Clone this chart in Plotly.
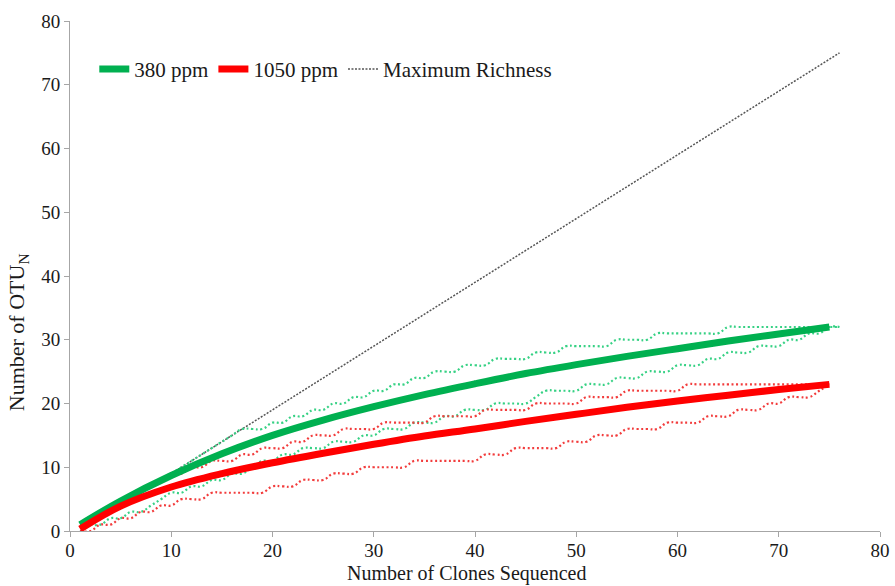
import plotly.graph_objects as go

# Mean rarefaction curves (number of clones sequenced vs. OTU count)
mean_x = [1, 5, 10, 15, 20, 25, 30, 35, 40, 45, 50, 55, 60, 65, 70, 75]
green_mean = [1.0, 4.7, 8.7, 12.1, 15.0, 17.4, 19.5, 21.4, 23.1, 24.7, 26.1, 27.4, 28.6, 29.8, 30.9, 32.0]
red_mean = [0.3, 3.9, 6.9, 9.0, 10.7, 12.2, 13.6, 14.9, 16.0, 17.2, 18.3, 19.4, 20.4, 21.3, 22.2, 23.0]

# 95% confidence bounds, one value per clone count
green_ci_x = list(range(2, 77))
green_upper = [1, 2, 3, 4, 5, 6, 7, 8, 9, 10, 11, 12, 13, 14, 15,
               16, 16, 16, 17, 17, 18, 18, 19, 19, 20, 20, 21, 21, 22, 22,
               23, 23, 24, 24, 25, 25, 25, 26, 26, 26, 27, 27, 27, 27,
               28, 28, 28, 29, 29, 29, 29, 29, 30, 30, 30, 30,
               31, 31, 31, 31, 31, 31, 31,
               32, 32, 32, 32, 32, 32, 32, 32, 32, 32, 32, 32]
green_lower = [1, 1, 2, 2, 3, 3, 4, 5, 6, 6, 7, 7, 8, 8, 9, 9, 10,
               11, 11, 12, 12, 13, 13, 13, 14, 14, 14, 15, 15, 16, 16, 16,
               17, 17, 17, 18, 18, 19, 19, 19, 20, 20, 20, 20, 21,
               22, 22, 22, 22, 23, 23, 23, 24, 24, 24, 25, 25, 25,
               26, 26, 26, 27, 27, 28, 28, 28, 29, 29, 29, 30, 30, 31, 31, 32, 32]

red_ci_x = list(range(1, 76))
red_upper = [1, 1, 2, 3, 4, 5, 6, 7, 8, 9, 9, 10, 10, 11, 11, 11, 12, 12,
             13, 13, 13, 14, 14, 15, 15, 15, 16, 16, 16, 16,
             17, 17, 17, 17, 17, 18, 18, 18, 18, 18, 19, 19, 19, 19, 19,
             20, 20, 20, 20, 20, 21, 21, 21, 21, 22, 22, 22, 22, 22, 22,
             23, 23, 23, 23, 23, 23, 23, 23, 23, 23, 23, 23, 23, 23, 23]
red_lower = [0, 0, 1, 1, 2, 2, 3, 3, 4, 4, 5, 5, 5, 6, 6, 6, 6, 6, 6,
             7, 7, 7, 8, 8, 8, 9, 9, 9, 10, 10, 10, 10, 10,
             11, 11, 11, 11, 11, 11, 11, 12, 12, 12, 13, 13, 13, 13, 13,
             14, 14, 14, 15, 15, 15, 16, 16, 16, 16, 17, 17, 17, 17,
             18, 18, 18, 19, 19, 19, 20, 20, 21, 21, 21, 22, 23]

# Maximum possible richness (every clone a new OTU)
max_x = [1, 76]
max_y = [0, 75]

GREEN = "#00b050"
RED = "#ff0000"
GREEN_CI = "#36d184"
RED_CI = "#f23c3c"
FONT = "Liberation Serif"
INK = "#1a1a1a"

fig = go.Figure()

fig.add_trace(go.Scatter(x=max_x, y=max_y, mode="lines", name="Maximum Richness",
                         line=dict(color="#555555", width=1.5, dash="2px,1.5px"),
                         legendrank=3))

for xs, ys, col in [(green_ci_x, green_upper, GREEN_CI), (green_ci_x, green_lower, GREEN_CI),
                    (red_ci_x, red_upper, RED_CI), (red_ci_x, red_lower, RED_CI)]:
    fig.add_trace(go.Scatter(x=xs, y=ys, mode="lines", showlegend=False, hoverinfo="skip",
                             line=dict(color=col, width=2.2, dash="2px,2.6px",
                                       shape="spline", smoothing=1.3)))

fig.add_trace(go.Scatter(x=mean_x, y=green_mean, mode="lines", name="380 ppm",
                         line=dict(color=GREEN, width=7, shape="spline"), legendrank=1))
fig.add_trace(go.Scatter(x=mean_x, y=red_mean, mode="lines", name="1050 ppm",
                         line=dict(color=RED, width=7, shape="spline"), legendrank=2))

axis_common = dict(
    range=[0, 80], dtick=10, showgrid=False, zeroline=False, automargin=False,
    showline=True, linecolor="#a6a6a6", linewidth=1,
    ticks="outside", ticklen=5, tickcolor="#a6a6a6",
    tickfont=dict(family=FONT, size=19, color=INK),
)

fig.update_layout(
    width=895, height=586,
    margin=dict(l=70, r=15, t=21, b=55),
    paper_bgcolor="white", plot_bgcolor="white",
    font=dict(family=FONT, color=INK),
    xaxis=dict(axis_common, ticklabelstandoff=-3),
    yaxis=dict(axis_common),
    legend=dict(orientation="h", x=0.03, y=0.905, xanchor="left", yanchor="middle",
                bgcolor="rgba(0,0,0,0)", font=dict(family=FONT, size=21, color=INK),
                itemwidth=30, tracegroupgap=0, traceorder="normal"),
    annotations=[
        dict(text="Number of Clones Sequenced",
             xref="paper", yref="paper", x=0.49, y=-0.108,
             xanchor="center", yanchor="bottom", showarrow=False, borderpad=0,
             font=dict(family=FONT, size=20, color=INK)),
        dict(text="Number of OTU<sub>N</sub>", textangle=-90,
             xref="paper", yref="paper", x=-0.064, y=0.39,
             xanchor="center", yanchor="middle", showarrow=False,
             font=dict(family=FONT, size=22, color=INK)),
    ],
)

fig.write_html("out.html")
